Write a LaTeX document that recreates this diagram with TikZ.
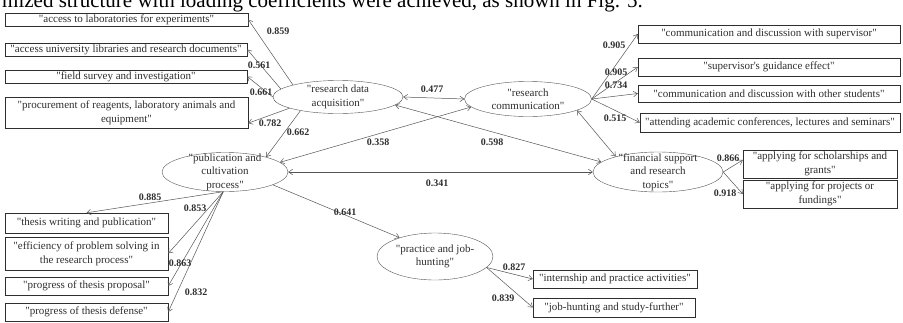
\documentclass[tikz,border=0pt]{standalone}
\usepackage{fontspec}
\setmainfont{Liberation Serif}[Ligatures=TeXOff]
\usetikzlibrary{shapes.geometric,arrows.meta}

\definecolor{inkgray}{HTML}{2E2E2E}
\definecolor{linegray}{HTML}{555555}

\tikzset{
  box/.style={draw=inkgray, rectangle, inner sep=1pt, align=center, text=inkgray,
    font=\fontsize{11}{14}\selectfont},
  factor/.style={draw=linegray, ellipse, inner sep=0pt},
  factortext/.style={align=center, text=inkgray, inner sep=0pt,
    font=\fontsize{11}{13.5}\selectfont},
  coef/.style={text=inkgray, inner sep=0pt, font=\bfseries\fontsize{10}{11}\selectfont},
  load/.style={-{Straight Barb[length=4pt,width=5.5pt]}, linegray, line width=0.5pt},
  corr/.style={{Straight Barb[length=4pt,width=5.5pt]}-{Straight Barb[length=4pt,width=5.5pt]}, linegray, line width=0.5pt},
}

\begin{document}
\begin{tikzpicture}[x=1pt, y=-1pt]

\useasboundingbox (0,0) rectangle (903,322);

%caption cut by the page edge
\node[anchor=base west, inner sep=0pt, text=black, font=\fontsize{21}{21}\selectfont] (caption) at (2,7.3)
  {mized structure with loading coefficients were achieved, as shown in Fig. 5.};

%latent factors
\node[factor, minimum width=130pt, minimum height=33pt] (rda) at (338,97) {};
\node[factortext] (rdatxt) at (rda) {"research data\\acquisition"};
\node[factor, minimum width=127pt, minimum height=35pt] (rc) at (528,99) {};
\node[factortext] (rctxt) at (rc) {"research\\communication"};
\node[factor, minimum width=126pt, minimum height=39pt] (pub) at (225,172) {};
\node[factortext] (pubtxt) at (pub) {"publication and\\cultivation\\process"};
\node[factor, minimum width=130pt, minimum height=40pt] (fin) at (658,172) {};
\node[factortext] (fintxt) at (fin) {"financial support\\and research\\topics"};
\node[factor, minimum width=116pt, minimum height=47pt] (pj) at (435,256.5) {};
\node[factortext] (pjtxt) at (pj) {"practice and job-\\hunting"};

%observed items
\node[box, minimum width=243pt, minimum height=13pt] (b1) at (126.5,19.5) {"access to laboratories for experiments"};
\node[box, minimum width=242pt, minimum height=13pt] (b2) at (126,49.5) {"access university libraries and research documents"};
\node[box, minimum width=242pt, minimum height=13pt] (b3) at (126,76.5) {"field survey and investigation"};
\node[box, minimum width=243pt, minimum height=31pt] (b4) at (126.5,112.5) {"procurement of reagents, laboratory animals and\\equipment"};

\node[box, minimum width=262pt, minimum height=18pt] (r1) at (769,34) {"communication and discussion with supervisor"};
\node[box, minimum width=262pt, minimum height=18pt] (r2) at (769,67) {"supervisor's guidance effect"};
\node[box, minimum width=262pt, minimum height=17pt] (r3) at (769,93.5) {"communication and discussion with other students"};
\node[box, minimum width=260pt, minimum height=19pt] (r4) at (770,122.5) {"attending academic conferences, lectures and seminars"};

\node[box, minimum width=154pt, minimum height=28pt] (f1) at (820,164) {"applying for scholarships and\\grants"};
\node[box, minimum width=154pt, minimum height=28pt] (f2) at (820,194) {"applying for projects or\\fundings"};

\node[box, minimum width=163pt, minimum height=20pt] (p1) at (86.5,223) {"thesis writing and publication"};
\node[box, minimum width=163pt, minimum height=33pt] (p2) at (86.5,253.5) {"efficiency of problem solving in\\the research process"};
\node[box, minimum width=163pt, minimum height=18pt] (p3) at (86.5,286) {"progress of thesis proposal"};
\node[box, minimum width=163pt, minimum height=18pt] (p4) at (86.5,312) {"progress of thesis defense"};

\node[box, minimum width=164pt, minimum height=18pt] (j1) at (615,279) {"internship and practice activities"};
\node[box, minimum width=162pt, minimum height=19pt] (j2) at (614,307.5) {"job-hunting and study-further"};

%loadings
\draw[load] (rda.165) -- (b1.east);
\draw[load] (rda.172) -- (b2.east);
\draw[load] (rda.180) -- (b3.east);
\draw[load] (rda.193) -- (b4.-5);
\draw[load] (rc.east) -- (r1.west);
\draw[load] (rc.east) -- (r2.west);
\draw[load] (rc.east) -- (r3.west);
\draw[load] (rc.east) -- (r4.west);
\draw[load] (fin.east) -- (f1.177);
\draw[load] (fin.east) -- (f2.west);
\draw[load] (pub.-95) -- (p1.north);
\draw[load] (pub.-95) -- (p2.east);
\draw[load] (pub.-95) -- (p3.east);
\draw[load] (pub.-95) -- (p4.east);
\draw[load] (pj.-12) -- (j1.west);
\draw[load] (pj.-12) -- (j2.west);

%paths between factors
\draw[load] (rda.200) -- (pub.20);
\draw[load] (pub.-15) -- (pj.152);
\draw[corr] (rda.east) -- (rc.west);
\draw[corr] (pub.10) -- (rc.188);
\draw[corr] (rda.-8) -- (fin.170);
\draw[corr] (pub.east) -- (fin.west);
\draw[corr] (rc.-13) -- (fin.160);

%coefficients
\node[coef] (c859) at (278,31) {0.859};
\node[coef] (c561) at (259,65) {0.561};
\node[coef] (c661) at (261,92) {0.661};
\node[coef] (c782) at (270,123) {0.782};
\node[coef] (c662) at (298,132) {0.662};
\node[coef] (c477) at (432,89) {0.477};
\node[coef] (c358) at (378,142) {0.358};
\node[coef] (c598) at (492,142) {0.598};
\node[coef] (c341) at (437,183) {0.341};
\node[coef] (c905a) at (614,45) {0.905};
\node[coef] (c905b) at (616,72) {0.905};
\node[coef] (c734) at (616,85) {0.734};
\node[coef] (c515) at (615,118) {0.515};
\node[coef] (c866) at (728,158) {0.866};
\node[coef] (c918) at (725,193) {0.918};
\node[coef] (c885) at (150,197) {0.885};
\node[coef] (c853) at (195,208) {0.853};
\node[coef] (c863) at (180,263) {0.863};
\node[coef] (c832) at (196,292) {0.832};
\node[coef] (c641) at (345,212) {0.641};
\node[coef] (c827) at (514,267) {0.827};
\node[coef] (c839) at (503,298) {0.839};

\end{tikzpicture}
\end{document}
